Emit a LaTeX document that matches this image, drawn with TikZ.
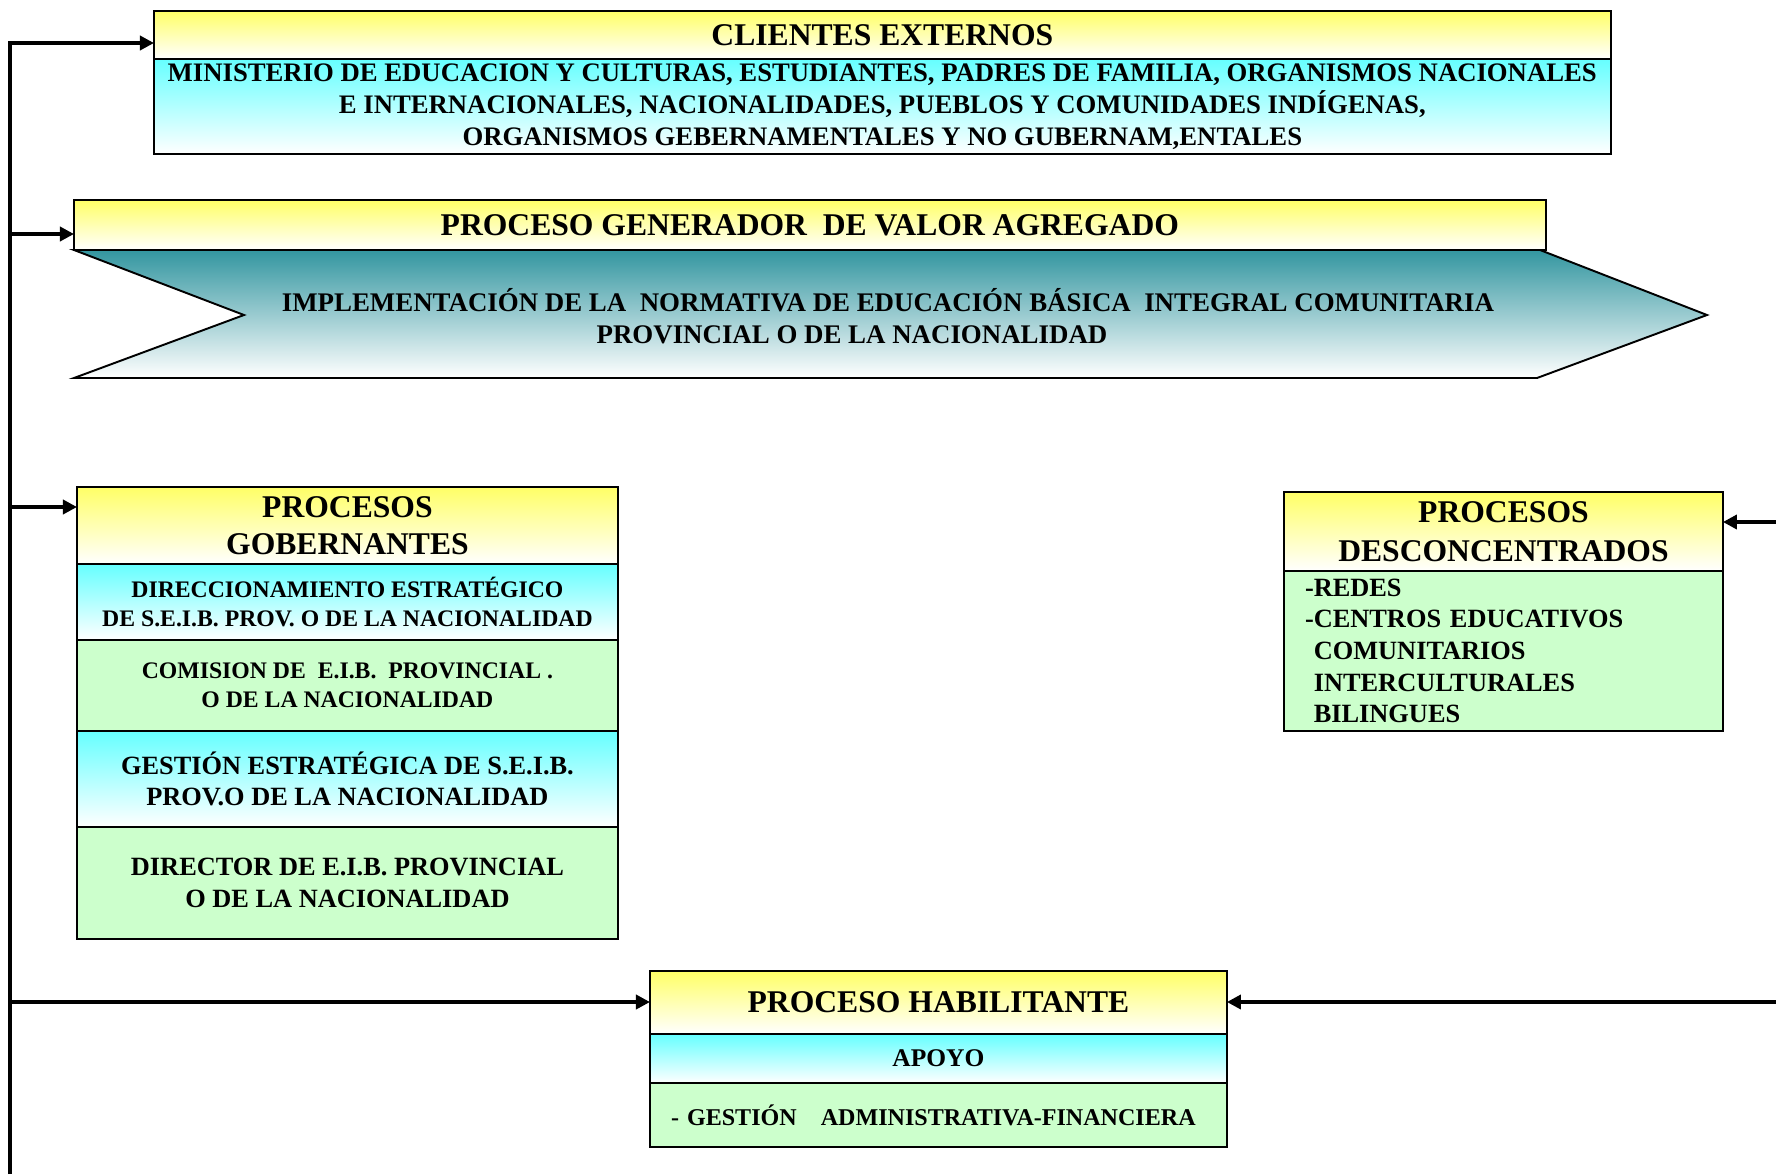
\documentclass[tikz,border=0pt]{standalone}
\usepackage{fontspec}
\setmainfont{Liberation Serif}
\usetikzlibrary{arrows.meta}
\definecolor{verdeclaro}{RGB}{204,255,204}
\definecolor{amarillo}{RGB}{255,255,102}
\definecolor{celeste}{RGB}{102,255,255}
\definecolor{petroleo}{RGB}{51,150,160}
\tikzset{
  caja/.style={draw, line width=1.1pt, inner sep=0pt, outer sep=0pt, anchor=north west, align=center},
  cajaAmarilla/.style={caja, top color=amarillo, bottom color=white, font=\bfseries\fontsize{18}{21}\selectfont},
  cajaCeleste/.style={caja, top color=celeste, bottom color=white},
  cajaVerde/.style={caja, fill=verdeclaro},
  flecha/.style={line width=2.2pt, -{Triangle[length=8pt,width=8pt]}},
}
\begin{document}
\begin{tikzpicture}[x=0.02cm, y=-0.02cm]
  \useasboundingbox (0,0) rectangle (1776,1174);

  % Clientes externos
  \node[cajaAmarilla, minimum width=29.14cm, minimum height=0.96cm] (cliHead) at (154,11) {CLIENTES EXTERNOS};
  \node[cajaCeleste, minimum width=29.14cm, minimum height=1.90cm, font=\bfseries\fontsize{15.2}{18.2}\selectfont] (cliBody) at (cliHead.south west)
    {MINISTERIO DE EDUCACION Y CULTURAS, ESTUDIANTES, PADRES DE FAMILIA, ORGANISMOS NACIONALES\\
     E INTERNACIONALES, NACIONALIDADES, PUEBLOS Y COMUNIDADES INDÍGENAS,\\
     ORGANISMOS GEBERNAMENTALES Y NO GUBERNAM,ENTALES};

  % Proceso generador de valor agregado
  \draw[line width=1.1pt, top color=petroleo, bottom color=white]
    (74,250) -- (244,315) -- (74,378) -- (1537,378) -- (1707,315) -- (1540,250) -- cycle;
  \node[font=\bfseries\fontsize{15.3}{18.2}\selectfont, align=center] (genTexto) at (888,316)
    {IMPLEMENTACIÓN DE LA\ \ NORMATIVA DE EDUCACIÓN BÁSICA\ \ INTEGRAL COMUNITARIA\\
     PROVINCIAL O DE LA NACIONALIDAD\hspace*{1.44cm}};
  \node[cajaAmarilla, minimum width=29.44cm, minimum height=1.00cm] (genHead) at (74,200) {PROCESO GENERADOR\ \ DE VALOR AGREGADO};

  % Procesos gobernantes
  \node[cajaAmarilla, minimum width=10.82cm, minimum height=1.54cm] (gobHead) at (77,487) {PROCESOS\\GOBERNANTES};
  \node[cajaCeleste, minimum width=10.82cm, minimum height=1.52cm, font=\bfseries\fontsize{13.5}{16}\selectfont] (gobDir) at (gobHead.south west)
    {DIRECCIONAMIENTO ESTRATÉGICO\\DE S.E.I.B. PROV. O DE LA NACIONALIDAD};
  \node[cajaVerde, minimum width=10.82cm, minimum height=1.82cm, font=\bfseries\fontsize{13.5}{16.5}\selectfont] (gobCom) at (gobDir.south west)
    {COMISION DE\ \ E.I.B.\ \ PROVINCIAL .\\O DE LA NACIONALIDAD};
  \node[cajaCeleste, minimum width=10.82cm, minimum height=1.92cm, font=\bfseries\fontsize{15}{18}\selectfont] (gobGes) at (gobCom.south west)
    {GESTIÓN ESTRATÉGICA DE S.E.I.B.\\PROV.O DE LA NACIONALIDAD};
  \node[cajaVerde, minimum width=10.82cm, minimum height=2.24cm, font=\bfseries\fontsize{15}{18.5}\selectfont] (gobDirector) at (gobGes.south west)
    {DIRECTOR DE E.I.B. PROVINCIAL\\O DE LA NACIONALIDAD};

  % Procesos desconcentrados
  \node[cajaAmarilla, minimum width=8.78cm, minimum height=1.58cm, font=\bfseries\fontsize{18}{22}\selectfont] (desHead) at (1284,492) {PROCESOS\\DESCONCENTRADOS};
  \node[cajaVerde, minimum width=8.78cm, minimum height=3.20cm, text width=7.94cm, align=left, font=\bfseries\fontsize{15}{18}\selectfont] (desBody) at (desHead.south west)
    {-REDES\\-CENTROS EDUCATIVOS\\\ COMUNITARIOS\\\ INTERCULTURALES\\\ BILINGUES};

  % Proceso habilitante
  \node[cajaAmarilla, minimum width=11.54cm, minimum height=1.26cm] (habHead) at (650,971) {PROCESO HABILITANTE};
  \node[cajaCeleste, minimum width=11.54cm, minimum height=0.98cm, font=\bfseries\fontsize{14.5}{17}\selectfont] (habApoyo) at (habHead.south west) {APOYO};
  \node[cajaVerde, minimum width=11.54cm, minimum height=1.28cm, text width=10.70cm, align=left, font=\bfseries\fontsize{13.7}{16}\selectfont] (habGes) at (habApoyo.south west)
    {- GESTIÓN\ \ \ ADMINISTRATIVA-FINANCIERA};

  % Conectores
  \coordinate (tronco) at (10,1174);
  \coordinate (t1) at (10,43);
  \coordinate (t2) at (10,234);
  \coordinate (t3) at (10,507);
  \coordinate (t4) at (10,1002);
  \coordinate (d1) at (1776,522);
  \coordinate (d2) at (1776,1002);
  \draw[flecha] (tronco) -- (t1) -- (t1 -| cliHead.west);
  \draw[flecha] (t2) -- (t2 -| genHead.west);
  \draw[flecha] (t3) -- (t3 -| gobHead.west);
  \draw[flecha] (t4) -- (t4 -| habHead.west);
  \draw[flecha] (d1) -- (d1 -| desHead.east);
  \draw[flecha] (d2) -- (d2 -| habHead.east);
\end{tikzpicture}
\end{document}
